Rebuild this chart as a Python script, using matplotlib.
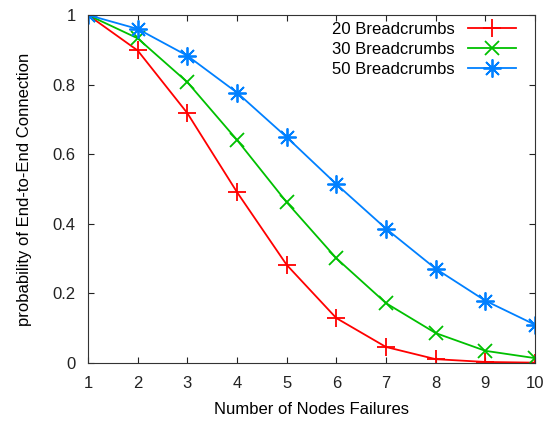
import matplotlib
matplotlib.use('Agg')
import matplotlib.pyplot as plt
import numpy as np

plt.rcParams['font.family'] = ['Liberation Sans', 'DejaVu Sans']

# data
failures = [1, 2, 3, 4, 5, 6, 7, 8, 9, 10]
crumbs_20 = [1.0, 0.898, 0.718, 0.491, 0.282, 0.129, 0.046, 0.011, 0.003, 0.001]
crumbs_30 = [1.0, 0.933, 0.807, 0.641, 0.462, 0.301, 0.172, 0.086, 0.035, 0.014]
crumbs_50 = [1.0, 0.960, 0.883, 0.777, 0.649, 0.514, 0.386, 0.271, 0.179, 0.110]
labels = ['20 Breadcrumbs', '30 Breadcrumbs', '50 Breadcrumbs']

fig = plt.figure(figsize=(5.48, 4.24), dpi=100)
ax = fig.add_axes([88 / 548, 1 - 363 / 424, (535 - 88) / 548, (363 - 15) / 424])

ax.plot(failures, crumbs_20, color='#ff0000', lw=1.3, marker='+', ms=13, mew=1.3, label=labels[0])
ax.plot(failures, crumbs_30, color='#00c000', lw=1.3, marker='x', ms=10, mew=1.3, label=labels[1])
ax.plot(failures, crumbs_50, color='#0080ff', lw=1.3, marker=(8, 2, 0), ms=13, mew=1.3, label=labels[2])

fs = 12
ax.set_xlim(1, 10)
ax.set_ylim(0, 1)
ax.set_xticks(failures)
ax.set_yticks([0, 0.2, 0.4, 0.6, 0.8, 1])
ax.set_yticklabels(['0', '0.2', '0.4', '0.6', '0.8', '1'])
ax.tick_params(direction='in', top=True, right=True, length=4, width=0.8,
               labelsize=fs, colors='#222222', pad=9)
for s in ax.spines.values():
    s.set_linewidth(0.8)
    s.set_color('#333333')

ax.set_xlabel('Number of Nodes Failures', fontsize=fs, labelpad=8)
ax.set_ylabel('probability of End-to-End Connection', fontsize=fs, labelpad=15)

ax.legend(loc='upper right', bbox_to_anchor=(1 - 7 / 447, 1.014), frameon=False,
          markerfirst=False, fontsize=fs, handlelength=2.9, labelspacing=0.3,
          borderaxespad=0.3, borderpad=0.4, handletextpad=0.8)

fig.savefig('out.png', dpi=100)
